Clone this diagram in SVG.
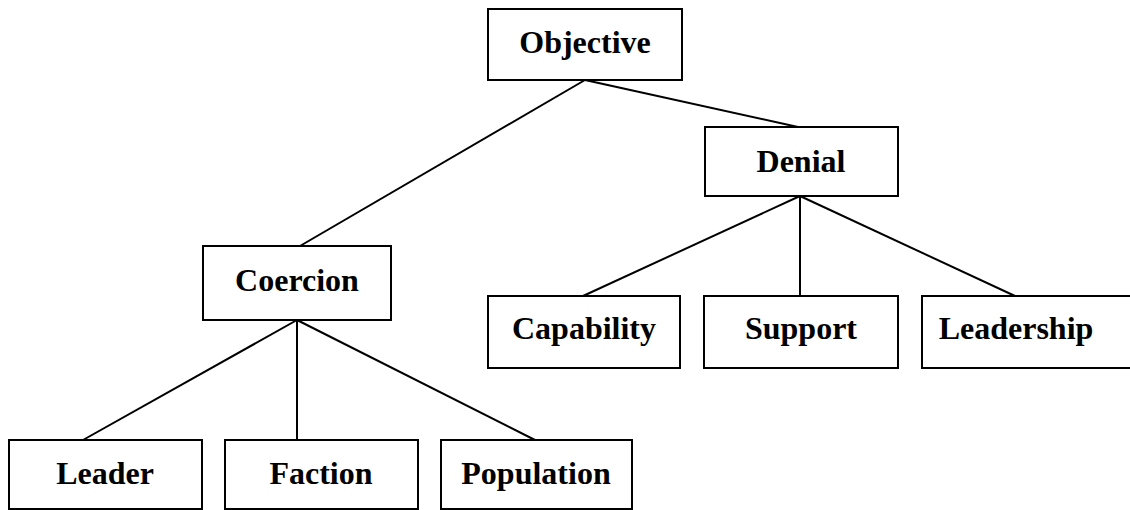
<svg xmlns="http://www.w3.org/2000/svg" width="1130" height="510" viewBox="0 0 1130 510">
<style>
.box{fill:#fff;stroke:#000;stroke-width:2}
.lbl{font-family:"Liberation Serif","Times New Roman",serif;font-weight:bold;font-size:32px;fill:#000;text-anchor:middle}
.edge{stroke:#000;stroke-width:2;fill:none}
</style>
<rect width="1130" height="510" fill="#fff"/>
<g id="connectors">
<line class="edge" x1="585" y1="80" x2="300" y2="246"/>
<line class="edge" x1="585" y1="80" x2="798" y2="127"/>
<line class="edge" x1="297" y1="320" x2="83" y2="440"/>
<line class="edge" x1="297" y1="320" x2="297" y2="440"/>
<line class="edge" x1="297" y1="320" x2="535" y2="440"/>
<line class="edge" x1="800" y1="196" x2="583" y2="296"/>
<line class="edge" x1="800" y1="196" x2="800" y2="296"/>
<line class="edge" x1="800" y1="196" x2="1015" y2="296"/>
</g>
<g id="objective"><rect class="box" x="488" y="9" width="194" height="71"/><text class="lbl" x="585" y="53">Objective</text></g>
<g id="denial"><rect class="box" x="705" y="127" width="193" height="69"/><text class="lbl" x="801" y="172">Denial</text></g>
<g id="coercion"><rect class="box" x="203" y="246" width="188" height="74"/><text class="lbl" x="297" y="291">Coercion</text></g>
<g id="leader"><rect class="box" x="9" y="440" width="193" height="69"/><text class="lbl" x="105" y="484">Leader</text></g>
<g id="faction"><rect class="box" x="225" y="440" width="193" height="69"/><text class="lbl" x="321" y="484">Faction</text></g>
<g id="population"><rect class="box" x="441" y="440" width="191" height="69"/><text class="lbl" x="536" y="484">Population</text></g>
<g id="capability"><rect class="box" x="488" y="296" width="192" height="72"/><text class="lbl" x="584" y="339">Capability</text></g>
<g id="support"><rect class="box" x="704" y="296" width="194" height="72"/><text class="lbl" x="801" y="339">Support</text></g>
<g id="leadership"><rect class="box" x="922" y="296" width="220" height="72"/><text class="lbl" x="1016" y="339">Leadership</text></g>
</svg>
